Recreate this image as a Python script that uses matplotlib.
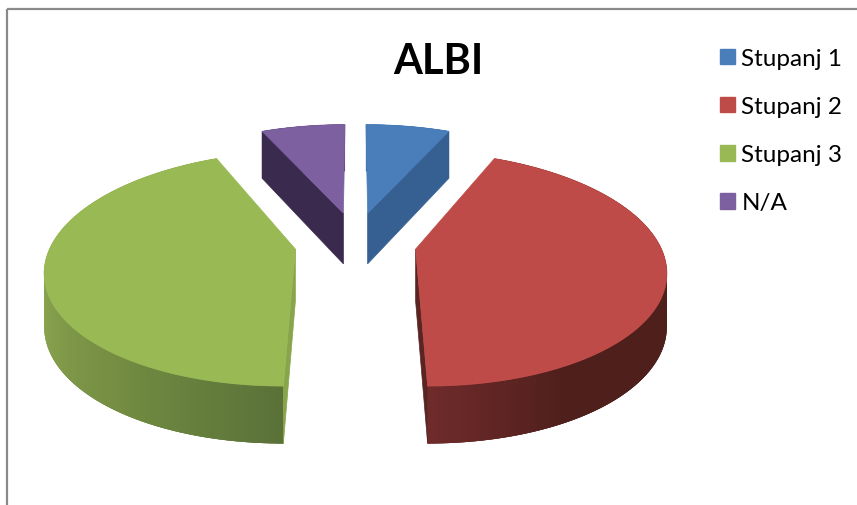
import numpy as np
import matplotlib
matplotlib.use('Agg')
import matplotlib.pyplot as plt
from matplotlib.patches import Patch, Polygon, Rectangle
from matplotlib.collections import PolyCollection
from matplotlib.colors import to_rgb

# Chart data
title = 'ALBI'
labels = ['Stupanj 1', 'Stupanj 2', 'Stupanj 3', 'N/A']
values = [2, 13, 13, 2]
top_colors = ['#4a7ebb', '#be4b48', '#98b954', '#7d60a0']
cut_colors = ['#376092', '#5a2422', '#88a54b', '#3a2a4d']

# Fake 3D camera, in pixels
cx, cy = 355.5, 243.5
rx, ry = 243.5, 112
persp = 0.165
persp_depth = 0.09
depth = 52
explode_x, explode_y = 0.25, 0.28


def project(x, y, lower=False):
    sx = cx + rx * x / (1 + persp * y)
    sy = cy - ry * y / (1 + persp * y)
    if lower:
        sy = sy + depth / (1 + persp_depth * y)
    return np.column_stack([sx, sy])


def mix(c1, c2, t):
    t = min(max(t, 0), 1)
    return tuple(np.array(to_rgb(c1)) * (1 - t) + np.array(to_rgb(c2)) * t)


def wall_color(i, t):
    # t runs along the slice, clockwise
    if i == 1:
        # red only lightens close to its front edge
        return mix('#4f1f1c', '#6e2b2a', (t - 0.82) / 0.18)
    if i == 2:
        # green goes from dark at the front to light on the left
        if t < 0.25:
            return mix('#5a7238', '#768f43', t / 0.25)
        return mix('#768f43', '#8ba651', (t - 0.25) / 0.25)
    return cut_colors[i]


fig = plt.figure(figsize=(8.57, 5.06), dpi=100)
ax = fig.add_axes([0, 0, 1, 1])
ax.set_xlim(0, 857)
ax.set_ylim(506, 0)
ax.axis('off')

# chart frame, cut off by the screenshot on the right and bottom
ax.add_patch(Rectangle((7, 10), 1000, 700, fill=False, ec='#8a8a8a', lw=1.6))

angles = np.cumsum([0] + values) / np.sum(values) * 2 * np.pi

for i in [3, 0, 2, 1]:
    a0, a1 = angles[i], angles[i + 1]
    mid = (a0 + a1) / 2
    ox = explode_x * np.sin(mid)
    oy = explode_y * np.cos(mid)
    th = np.linspace(a0, a1, 120)
    arc_x = ox + np.sin(th)
    arc_y = oy + np.cos(th)
    upper = project(arc_x, arc_y)
    lower = project(arc_x, arc_y, lower=True)
    apex_up = project(np.array([ox]), np.array([oy]))
    apex_low = project(np.array([ox]), np.array([oy]), lower=True)

    # outer wall, strips overlap so no seams show between them
    strips = []
    strip_colors = []
    n = len(th)
    order = range(n - 1) if i == 1 else range(n - 2, -1, -1)
    for j in order:
        if i == 1:
            j2 = min(j + 3, n - 1)
            j1 = j
        else:
            j1 = max(j - 2, 0)
            j2 = j + 1
        strips.append([upper[j1], upper[j2], lower[j2], lower[j1]])
        strip_colors.append(wall_color(i, j / (n - 2)))
    ax.add_collection(PolyCollection(strips, facecolors=strip_colors, edgecolors='none'))

    # the cut face that looks at the viewer
    k = -1 if i in (0, 1) else 0
    cut = [apex_up[0], upper[k], lower[k], apex_low[0]]
    ax.add_patch(Polygon(cut, closed=True, fc=cut_colors[i], ec=cut_colors[i], lw=0.5))

    # top face
    top = np.vstack([apex_up, upper])
    ax.add_patch(Polygon(top, closed=True, fc=top_colors[i], ec=top_colors[i], lw=0.5))

ax.text(438, 62, title, fontsize=30, fontweight='bold', family='Lato',
        ha='center', va='center', color='black')

handles = [Patch(fc=c, ec=c) for c in top_colors]
ax.legend(handles, labels, loc='upper left', bbox_to_anchor=(720, 49),
          bbox_transform=ax.transData, frameon=False,
          prop={'family': 'Lato', 'size': 17.5}, borderpad=0, borderaxespad=0,
          handlelength=0.62, handleheight=0.62, handletextpad=0.26, labelspacing=1.115)

fig.savefig('out.png', dpi=100)
